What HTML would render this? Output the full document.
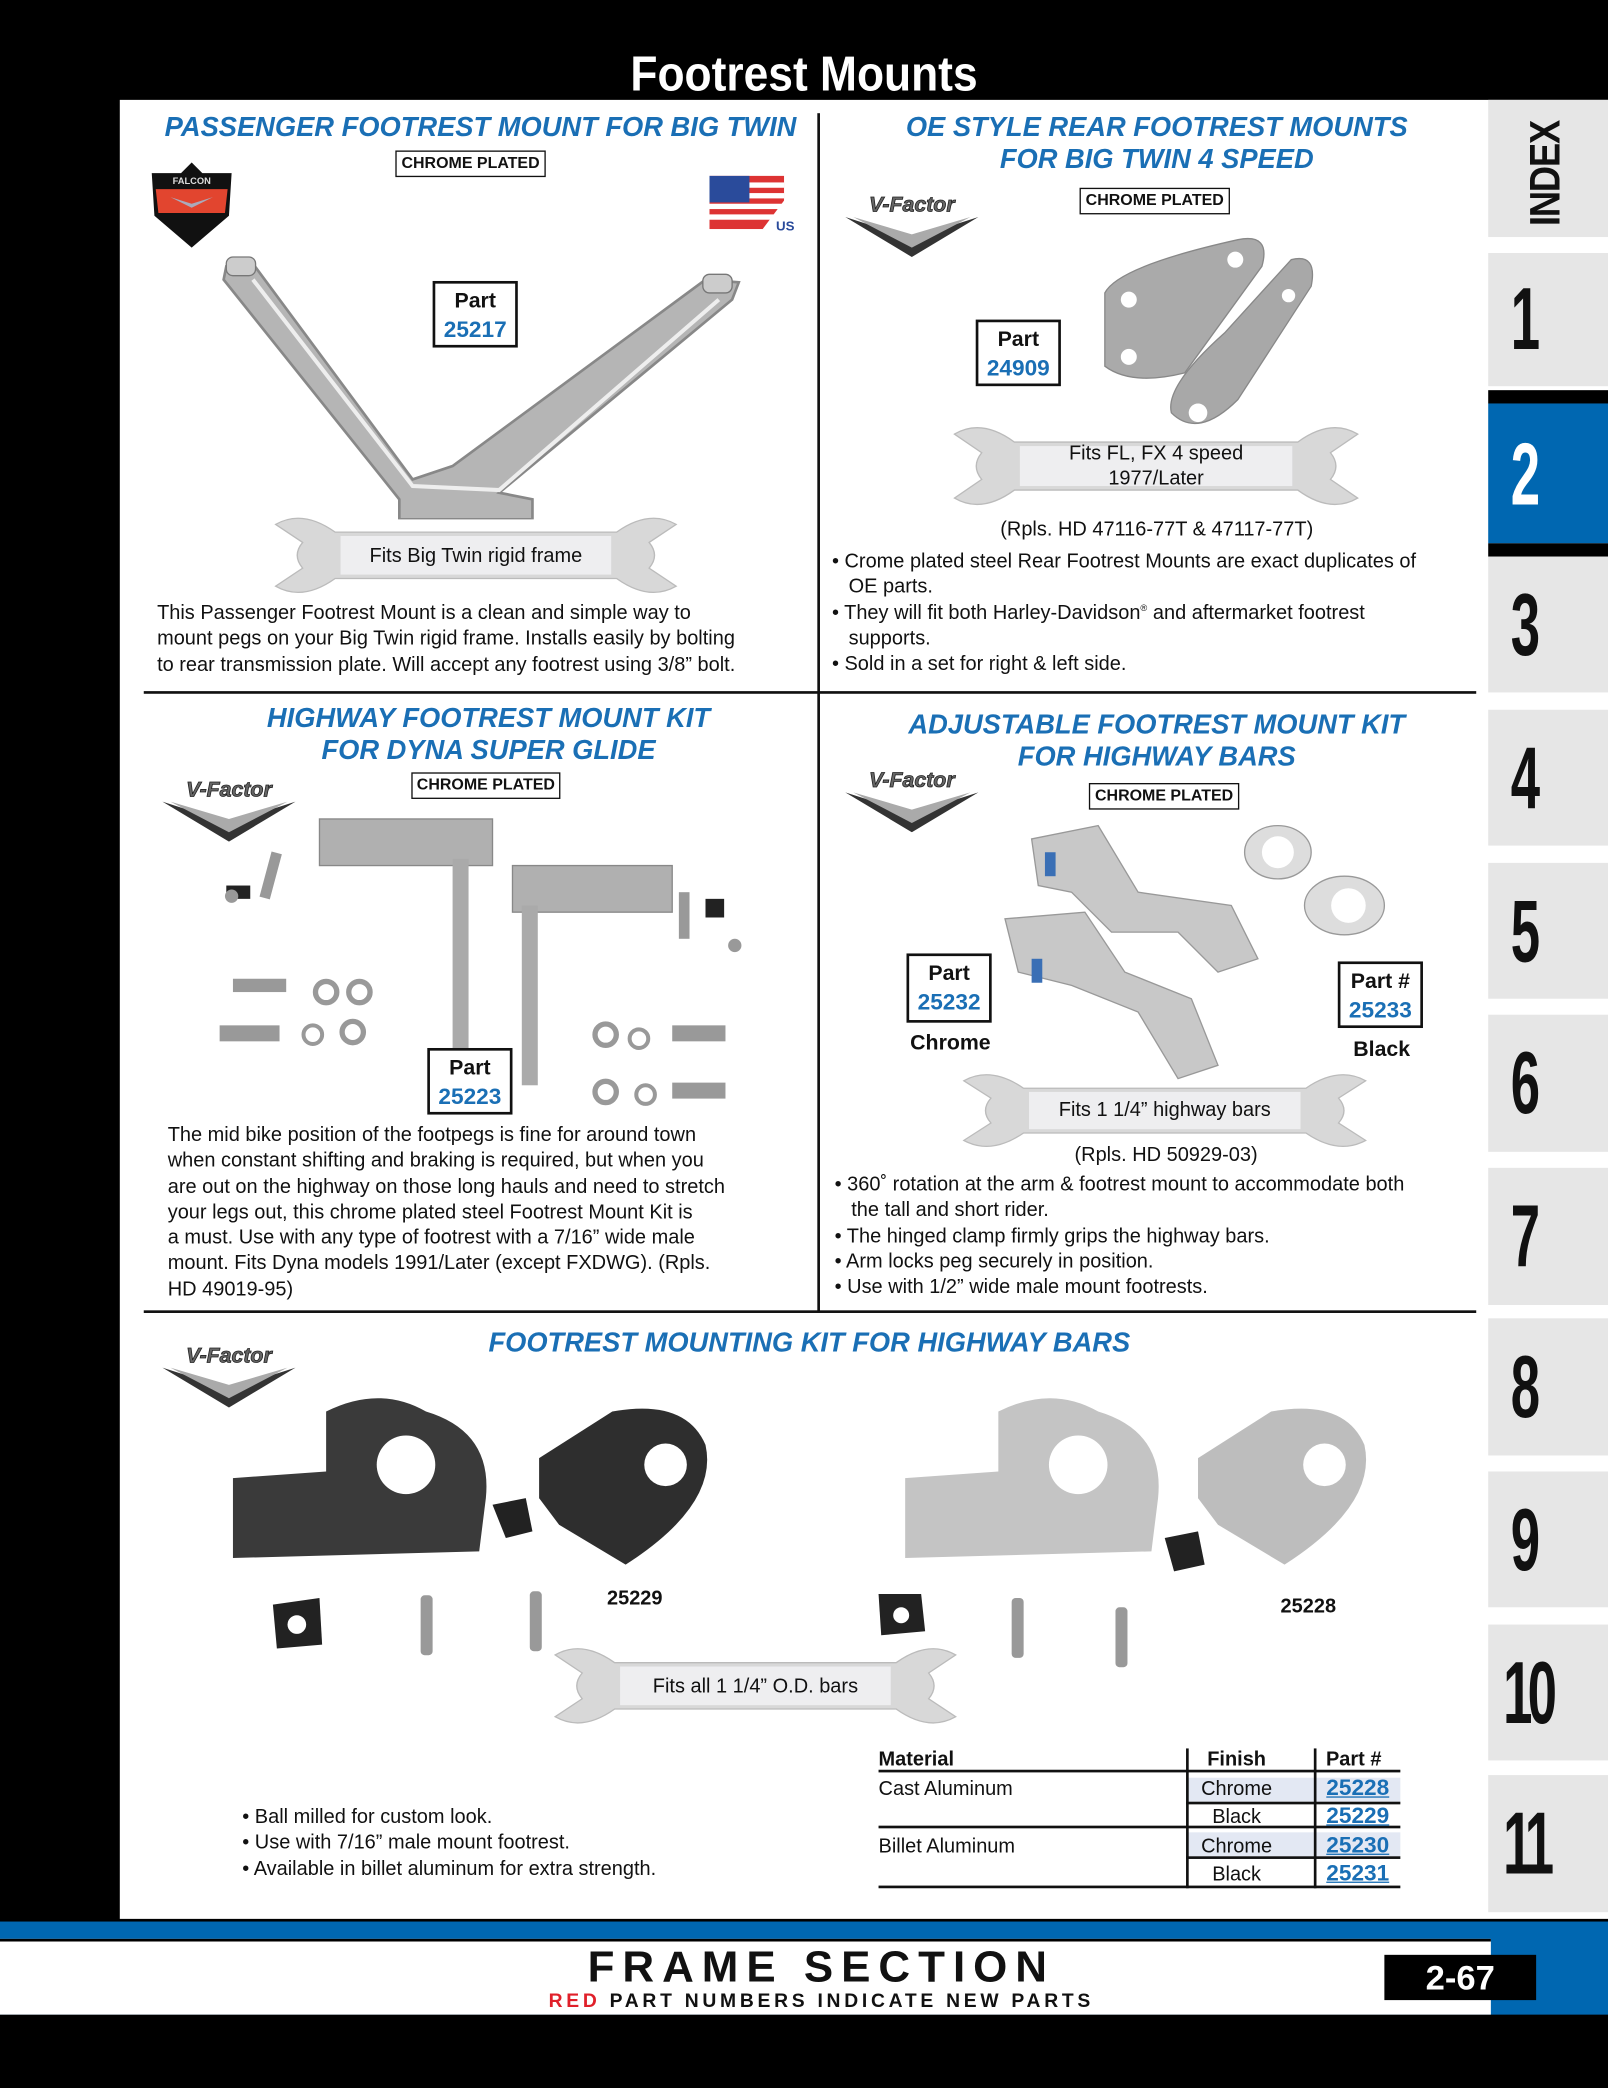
<!DOCTYPE html>
<html><head><meta charset="utf-8">
<style>
*{margin:0;padding:0;box-sizing:border-box}
html,body{width:1608px;height:2088px;overflow:hidden;background:#000}
#s{position:absolute;left:0;top:0;width:1208px;height:1568px;transform:scale(1.33113,1.33163);transform-origin:0 0;background:#000;font-family:"Liberation Sans",sans-serif;color:#111}
.a{position:absolute}
.h{position:absolute;color:#1a6fb5;font-weight:bold;font-style:italic;font-size:20.5px;text-align:center;line-height:24px;white-space:nowrap}
.cp{position:absolute;border:1.5px solid #111;font-size:12px;font-weight:bold;text-align:center;line-height:16px;background:#fff}
.pb{position:absolute;border:2px solid #111;text-align:center;font-weight:bold;font-size:16px;line-height:21px;padding-top:3px;background:#fff}
.pb span{color:#1a6fb5;display:block;font-size:17px}
.t{position:absolute;font-size:15px;line-height:19.3px;white-space:nowrap}
.tab{position:absolute;left:1118px;width:90px;background:#e6e6e6}
.num{position:absolute;left:0;width:56px;text-align:center;font-weight:bold;font-size:66px;line-height:62px;transform:scaleX(0.6);font-family:"Liberation Sans",sans-serif}
.w{position:absolute}
.w span{position:absolute;left:0;right:0;text-align:center;font-size:15px;line-height:19px}
.vl{position:absolute;background:#111}
sup{line-height:0}
</style></head><body><div id="s">
<div class="a" style="left:0;top:0;width:1208px;height:75px;background:#000"></div>
<div class="a" style="left:0;top:33px;width:1208px;text-align:center;color:#fff;font-weight:bold;font-size:37px;line-height:46px;font-family:'Liberation Sans',sans-serif;transform:scaleX(0.9)">Footrest Mounts</div>
<div class="a" style="left:90px;top:75px;width:1118px;height:1366px;background:#fff"></div>

<!-- tabs -->
<div class="tab" style="top:75px;height:103px"><div style="position:absolute;left:-2px;top:38px;width:90px;transform:rotate(-90deg) scaleX(0.85);font-weight:bold;font-size:32px;transform-origin:center;text-align:center;letter-spacing:-1px;">INDEX</div></div>
<div class="tab" style="top:190px;height:100px"><div class="num" style="top:18px">1</div></div>
<div class="tab" style="top:293px;height:10px;background:#000"></div>
<div class="tab" style="top:303px;height:105px;background:#0067b1"><div class="num" style="top:22px;color:#fff">2</div></div>
<div class="tab" style="top:408px;height:10px;background:#000"></div>
<div class="tab" style="top:418px;height:102px"><div class="num" style="top:20px">3</div></div>
<div class="tab" style="top:533px;height:102px"><div class="num" style="top:20px">4</div></div>
<div class="tab" style="top:648px;height:102px"><div class="num" style="top:20px">5</div></div>
<div class="tab" style="top:762px;height:103px"><div class="num" style="top:20px">6</div></div>
<div class="tab" style="top:877px;height:103px"><div class="num" style="top:20px">7</div></div>
<div class="tab" style="top:990px;height:103px"><div class="num" style="top:20px">8</div></div>
<div class="tab" style="top:1105px;height:102px"><div class="num" style="top:20px">9</div></div>
<div class="tab" style="top:1220px;height:102px"><div class="num" style="top:20px;letter-spacing:-6px">10</div></div>
<div class="tab" style="top:1333px;height:103px"><div class="num" style="top:20px;letter-spacing:-6px">11</div></div>

<!-- dividers -->
<div class="vl" style="left:614px;top:85px;width:2px;height:900px"></div>
<div class="vl" style="left:108px;top:519px;width:1001px;height:2px"></div>
<div class="vl" style="left:108px;top:984px;width:1001px;height:2px"></div>

<!-- headings -->
<div class="h" style="left:108px;width:506px;top:84px">PASSENGER FOOTREST MOUNT FOR BIG TWIN</div>
<div class="h" style="left:616px;width:506px;top:84px">OE STYLE REAR FOOTREST MOUNTS<br>FOR BIG TWIN 4 SPEED</div>
<div class="h" style="left:114px;width:506px;top:528px">HIGHWAY FOOTREST MOUNT KIT<br>FOR DYNA SUPER GLIDE</div>
<div class="h" style="left:616px;width:506px;top:533px">ADJUSTABLE FOOTREST MOUNT KIT<br>FOR HIGHWAY BARS</div>
<div class="h" style="left:108px;width:1000px;top:997px">FOOTREST MOUNTING KIT FOR HIGHWAY BARS</div>

<div class="cp" style="left:297px;top:113px;width:113px;height:20px">CHROME PLATED</div>
<div class="cp" style="left:811px;top:141px;width:113px;height:20px">CHROME PLATED</div>
<div class="cp" style="left:309px;top:580px;width:112px;height:20px">CHROME PLATED</div>
<div class="cp" style="left:818px;top:588px;width:113px;height:20px">CHROME PLATED</div>

<!-- logos -->
<svg class="a" style="left:110px;top:122px" width="68" height="66" viewBox="0 0 68 66"><path d="M34 0 L42 8 L64 8 L62 40 L34 64 L6 40 L4 8 L26 8Z" fill="#111"/><path d="M7 20 L61 20 L59 38 L9 38Z" fill="#e2452f"/><text x="34" y="16" font-size="7" fill="#ddd" text-anchor="middle" font-family="Liberation Sans" font-weight="bold">FALCON</text><path d="M18 26 L34 34 L50 26 L34 31Z" fill="#aab"/></svg>
<svg class="a" style="left:533px;top:132px" width="64" height="44" viewBox="0 0 64 44"><rect width="56" height="40" fill="#d33"/><rect y="5" width="56" height="4" fill="#fff"/><rect y="13" width="56" height="4" fill="#fff"/><rect y="21" width="56" height="4" fill="#fff"/><rect y="29" width="56" height="4" fill="#fff"/><rect width="30" height="20" fill="#2a4b9b"/><path d="M40 40 L64 8 L64 44Z" fill="#fff"/><text x="50" y="41" font-size="10" font-weight="bold" fill="#2a4b9b" font-family="Liberation Sans">USA</text></svg>
<svg class="a" style="left:633px;top:143px" width="104" height="50" viewBox="0 0 104 50"><path d="M2 20 L52 36 L102 20 L52 50Z" fill="#333"/><path d="M8 20 L52 33 L96 20 L52 43Z" fill="#aaa"/><text x="52" y="16" font-size="16" font-weight="bold" font-style="italic" text-anchor="middle" fill="#666" stroke="#222" stroke-width=".6" font-family="Liberation Sans">V-Factor</text></svg>
<svg class="a" style="left:120px;top:582px" width="104" height="50" viewBox="0 0 104 50"><path d="M2 20 L52 36 L102 20 L52 50Z" fill="#333"/><path d="M8 20 L52 33 L96 20 L52 43Z" fill="#aaa"/><text x="52" y="16" font-size="16" font-weight="bold" font-style="italic" text-anchor="middle" fill="#666" stroke="#222" stroke-width=".6" font-family="Liberation Sans">V-Factor</text></svg>
<svg class="a" style="left:633px;top:575px" width="104" height="50" viewBox="0 0 104 50"><path d="M2 20 L52 36 L102 20 L52 50Z" fill="#333"/><path d="M8 20 L52 33 L96 20 L52 43Z" fill="#aaa"/><text x="52" y="16" font-size="16" font-weight="bold" font-style="italic" text-anchor="middle" fill="#666" stroke="#222" stroke-width=".6" font-family="Liberation Sans">V-Factor</text></svg>
<svg class="a" style="left:120px;top:1007px" width="104" height="50" viewBox="0 0 104 50"><path d="M2 20 L52 36 L102 20 L52 50Z" fill="#333"/><path d="M8 20 L52 33 L96 20 L52 43Z" fill="#aaa"/><text x="52" y="16" font-size="16" font-weight="bold" font-style="italic" text-anchor="middle" fill="#666" stroke="#222" stroke-width=".6" font-family="Liberation Sans">V-Factor</text></svg>

<!-- product images approx -->
<svg class="a" style="left:160px;top:190px" width="410" height="200" viewBox="0 0 410 200">
<path d="M10 10 L30 8 L150 170 L180 160 L370 20 L395 22 L390 35 L215 180 L240 185 L240 200 L140 200 L140 185 L8 20Z" fill="#b5b5b5" stroke="#888" stroke-width="2"/>
<path d="M30 20 L150 175 L215 178 L380 35" fill="none" stroke="#eee" stroke-width="3"/>
<rect x="10" y="3" width="22" height="14" rx="5" fill="#ccc" stroke="#777"/><rect x="368" y="16" width="22" height="14" rx="5" fill="#ccc" stroke="#777"/>
</svg>
<svg class="a" style="left:820px;top:170px" width="170" height="160" viewBox="0 0 170 160">
<path d="M10 50 Q20 30 110 10 Q135 5 128 30 L70 110 Q30 120 10 105Z" fill="#aaa" stroke="#888"/>
<path d="M60 140 Q55 120 100 80 L150 25 Q170 20 165 45 L110 130 Q80 160 60 140Z" fill="#a8a8a8" stroke="#888"/>
<circle cx="28" cy="55" r="6" fill="#fff"/><circle cx="108" cy="25" r="6" fill="#fff"/><circle cx="28" cy="98" r="6" fill="#fff"/><circle cx="80" cy="140" r="7" fill="#fff"/><circle cx="148" cy="52" r="5" fill="#fff"/>
</svg>
<svg class="a" style="left:160px;top:605px" width="410" height="230" viewBox="0 0 410 230">
<rect x="80" y="10" width="130" height="35" fill="#b0b0b0" stroke="#888"/><rect x="180" y="40" width="12" height="150" fill="#aaa"/>
<rect x="225" y="45" width="120" height="35" fill="#b0b0b0" stroke="#888"/><rect x="232" y="75" width="12" height="135" fill="#aaa"/>
<rect x="10" y="60" width="18" height="10" fill="#222"/><rect x="40" y="35" width="8" height="35" fill="#999" transform="rotate(15 44 50)"/><circle cx="14" cy="68" r="5" fill="#999"/>
<rect x="15" y="130" width="40" height="10" fill="#999"/><circle cx="85" cy="140" r="8" fill="none" stroke="#999" stroke-width="4"/><circle cx="110" cy="140" r="8" fill="none" stroke="#999" stroke-width="4"/>
<rect x="5" y="165" width="45" height="12" fill="#999"/><circle cx="75" cy="172" r="7" fill="none" stroke="#999" stroke-width="3"/><circle cx="105" cy="170" r="8" fill="none" stroke="#999" stroke-width="4"/>
<circle cx="295" cy="172" r="8" fill="none" stroke="#999" stroke-width="4"/><circle cx="320" cy="175" r="7" fill="none" stroke="#999" stroke-width="3"/><rect x="345" y="165" width="40" height="12" fill="#999"/>
<circle cx="295" cy="215" r="8" fill="none" stroke="#999" stroke-width="4"/><circle cx="325" cy="217" r="7" fill="none" stroke="#999" stroke-width="3"/><rect x="345" y="208" width="40" height="12" fill="#999"/>
<rect x="370" y="70" width="14" height="14" fill="#222"/><circle cx="392" cy="105" r="5" fill="#999"/><rect x="350" y="65" width="8" height="35" fill="#999"/>
</svg>
<svg class="a" style="left:745px;top:610px" width="330" height="210" viewBox="0 0 330 210">
<path d="M30 20 L80 10 L110 60 L180 70 L200 110 L170 120 L140 90 L90 90 L60 60 L35 55Z" fill="#c8c8c8" stroke="#999"/>
<path d="M10 80 L70 75 L100 120 L150 140 L170 190 L140 200 L110 150 L60 130 L20 120Z" fill="#c8c8c8" stroke="#999"/>
<ellipse cx="215" cy="30" rx="25" ry="20" fill="#ddd" stroke="#999"/><ellipse cx="265" cy="70" rx="30" ry="22" fill="#ddd" stroke="#999"/><circle cx="215" cy="30" r="12" fill="#fff"/><circle cx="268" cy="70" r="13" fill="#fff"/>
<rect x="40" y="30" width="8" height="18" fill="#3a6fb5"/><rect x="30" y="110" width="8" height="18" fill="#3a6fb5"/>
</svg>
<svg class="a" style="left:170px;top:1035px" width="930" height="220" viewBox="0 0 930 220">
<path d="M5 75 L75 70 L75 25 Q115 5 150 25 Q200 40 195 90 L190 130 L5 135Z" fill="#3a3a3a"/><circle cx="135" cy="65" r="22" fill="#fff"/>
<path d="M235 60 L290 25 Q345 15 360 50 Q370 95 300 140 L250 110 L235 90Z" fill="#2e2e2e"/><circle cx="330" cy="65" r="16" fill="#fff"/>
<path d="M510 75 L580 70 L580 25 Q620 5 655 25 Q705 40 700 90 L695 130 L510 135Z" fill="#c4c4c4"/><circle cx="640" cy="65" r="22" fill="#fff"/>
<path d="M730 60 L785 25 Q840 15 855 50 Q865 95 795 140 L745 110 L730 90Z" fill="#bdbdbd"/><circle cx="825" cy="65" r="16" fill="#fff"/>
<path d="M200 95 L225 90 L230 115 L210 120Z" fill="#222"/><path d="M705 120 L730 115 L735 140 L712 145Z" fill="#222"/>
<path d="M35 170 L70 165 L72 200 L38 203Z" fill="#222"/><circle cx="53" cy="185" r="7" fill="#fff"/>
<path d="M490 162 L522 162 L525 190 L492 193Z" fill="#222"/><circle cx="507" cy="178" r="6" fill="#fff"/>
<rect x="146" y="163" width="9" height="45" rx="3" fill="#999"/><rect x="228" y="160" width="9" height="45" rx="3" fill="#999"/>
<rect x="590" y="165" width="9" height="45" rx="3" fill="#999"/><rect x="668" y="172" width="9" height="45" rx="3" fill="#999"/>
</svg>

<!-- part boxes -->
<div class="pb" style="left:325px;top:211px;width:64px;height:50px">Part<span>25217</span></div>
<div class="pb" style="left:733px;top:240px;width:64px;height:50px">Part<span>24909</span></div>
<div class="pb" style="left:321px;top:787px;width:64px;height:50px">Part<span>25223</span></div>
<div class="pb" style="left:681px;top:716px;width:64px;height:52px">Part<span>25232</span></div>
<div class="pb" style="left:1005px;top:722px;width:64px;height:50px">Part #<span>25233</span></div>
<div class="a" style="left:664px;top:775px;width:100px;text-align:center;font-weight:bold;font-size:16px">Chrome</div>
<div class="a" style="left:988px;top:780px;width:100px;text-align:center;font-weight:bold;font-size:16px">Black</div>
<div class="a" style="left:456px;top:1192px;font-weight:bold;font-size:15px">25229</div>
<div class="a" style="left:962px;top:1198px;font-weight:bold;font-size:15px">25228</div>

<!-- wrenches -->
<svg width="0" height="0" style="position:absolute"><defs><path id="wr" d="M2 6 Q22 -6 46 12 L254 12 Q278 -6 298 6 L278 20 Q286 30 278 40 L298 54 Q278 66 254 48 L46 48 Q22 66 2 54 L22 40 Q14 30 22 20 Z"/></defs></svg>
<div class="w" style="left:205px;top:388px;width:305px;height:58px"><svg width="305" height="58" viewBox="0 0 300 60" preserveAspectRatio="none"><use href="#wr" fill="#d8d8d8" stroke="#bbb"/><rect x="50" y="15" width="200" height="30" fill="#eeeef0"/></svg><span style="top:20px">Fits Big Twin rigid frame</span></div>
<div class="w" style="left:715px;top:320px;width:307px;height:60px"><svg width="307" height="60" viewBox="0 0 300 60" preserveAspectRatio="none"><use href="#wr" fill="#d8d8d8" stroke="#bbb"/><rect x="50" y="15" width="200" height="30" fill="#eeeef0"/></svg><span style="top:11px">Fits FL, FX 4 speed<br>1977/Later</span></div>
<div class="w" style="left:722px;top:806px;width:306px;height:56px"><svg width="306" height="56" viewBox="0 0 300 60" preserveAspectRatio="none"><use href="#wr" fill="#d8d8d8" stroke="#bbb"/><rect x="50" y="15" width="200" height="30" fill="#eeeef0"/></svg><span style="top:18px">Fits 1 1/4” highway bars</span></div>
<div class="w" style="left:415px;top:1237px;width:305px;height:58px"><svg width="305" height="58" viewBox="0 0 300 60" preserveAspectRatio="none"><use href="#wr" fill="#d8d8d8" stroke="#bbb"/><rect x="50" y="15" width="200" height="30" fill="#eeeef0"/></svg><span style="top:20px">Fits all 1 1/4” O.D. bars</span></div>

<!-- body text -->
<div class="t" style="left:118px;top:451px">This Passenger Footrest Mount is a clean and simple way to<br>mount pegs on your Big Twin rigid frame. Installs easily by bolting<br>to rear transmission plate. Will accept any footrest using 3/8” bolt.</div>
<div class="t" style="left:616px;width:506px;text-align:center;top:388px">(Rpls. HD 47116-77T &amp; 47117-77T)</div>
<div class="t" style="left:625px;top:412px">• Crome plated steel Rear Footrest Mounts are exact duplicates of<br>&nbsp;&nbsp;&nbsp;OE parts.<br>• They will fit both Harley-Davidson<sup style="font-size:7px">®</sup> and aftermarket footrest<br>&nbsp;&nbsp;&nbsp;supports.<br>• Sold in a set for right &amp; left side.</div>
<div class="t" style="left:126px;top:843px">The mid bike position of the footpegs is fine for around town<br>when constant shifting and braking is required, but when you<br>are out on the highway on those long hauls and need to stretch<br>your legs out, this chrome plated steel Footrest Mount Kit is<br>a must. Use with any type of footrest with a 7/16” wide male<br>mount. Fits Dyna models 1991/Later (except FXDWG). (Rpls.<br>HD 49019-95)</div>
<div class="t" style="left:623px;width:506px;text-align:center;top:858px">(Rpls. HD 50929-03)</div>
<div class="t" style="left:627px;top:880px">• 360˚ rotation at the arm &amp; footrest mount to accommodate both<br>&nbsp;&nbsp;&nbsp;the tall and short rider.<br>• The hinged clamp firmly grips the highway bars.<br>• Arm locks peg securely in position.<br>• Use with 1/2” wide male mount footrests.</div>
<div class="t" style="left:182px;top:1355px">• Ball milled for custom look.<br>• Use with 7/16” male mount footrest.<br>• Available in billet aluminum for extra strength.</div>

<!-- table -->
<div class="a" style="left:891px;top:1335px;width:96px;height:18px;background:#e3e8f3"></div>
<div class="a" style="left:891px;top:1376px;width:96px;height:18px;background:#e3e8f3"></div>
<div class="a" style="left:987px;top:1335px;width:65px;height:18px;background:#e3e8f3"></div>
<div class="a" style="left:987px;top:1376px;width:65px;height:18px;background:#e3e8f3"></div>
<div class="vl" style="left:660px;top:1329px;width:392px;height:2px"></div>
<div class="vl" style="left:891px;top:1353px;width:161px;height:2px"></div>
<div class="vl" style="left:660px;top:1371px;width:392px;height:2px"></div>
<div class="vl" style="left:891px;top:1394px;width:161px;height:2px"></div>
<div class="vl" style="left:660px;top:1416px;width:392px;height:2px"></div>
<div class="vl" style="left:891px;top:1313px;width:1.5px;height:105px"></div>
<div class="vl" style="left:987px;top:1313px;width:1.5px;height:105px"></div>
<div class="a" style="left:660px;top:1313px;font-weight:bold;font-size:15px">Material</div>
<div class="a" style="left:881px;top:1313px;width:96px;text-align:center;font-weight:bold;font-size:15px">Finish</div>
<div class="a" style="left:987px;top:1313px;width:60px;text-align:center;font-weight:bold;font-size:15px">Part #</div>
<div class="a" style="left:660px;top:1335px;font-size:15px">Cast Aluminum</div>
<div class="a" style="left:660px;top:1378px;font-size:15px">Billet Aluminum</div>
<div class="a" style="left:881px;top:1335px;width:96px;text-align:center;font-size:15px">Chrome</div>
<div class="a" style="left:881px;top:1356px;width:96px;text-align:center;font-size:15px">Black</div>
<div class="a" style="left:881px;top:1378px;width:96px;text-align:center;font-size:15px">Chrome</div>
<div class="a" style="left:881px;top:1399px;width:96px;text-align:center;font-size:15px">Black</div>
<div class="a" style="left:987px;top:1333px;width:66px;text-align:center;font-size:17px;font-weight:bold;color:#1a6fb5;text-decoration:underline">25228</div>
<div class="a" style="left:987px;top:1354px;width:66px;text-align:center;font-size:17px;font-weight:bold;color:#1a6fb5;text-decoration:underline">25229</div>
<div class="a" style="left:987px;top:1376px;width:66px;text-align:center;font-size:17px;font-weight:bold;color:#1a6fb5;text-decoration:underline">25230</div>
<div class="a" style="left:987px;top:1397px;width:66px;text-align:center;font-size:17px;font-weight:bold;color:#1a6fb5;text-decoration:underline">25231</div>

<!-- footer -->
<div class="a" style="left:0;top:1443px;width:1208px;height:70px;background:#0067b1"></div>
<div class="a" style="left:0;top:1456px;width:1120px;height:57px;background:#fff;border-top:2px solid #000"></div>
<div class="a" style="left:0;top:1459px;width:1234px;text-align:center;font-weight:bold;font-size:33px;letter-spacing:6px;line-height:36px">FRAME SECTION</div>
<div class="a" style="left:0;top:1495px;width:1234px;text-align:center;font-weight:bold;font-size:14.5px;letter-spacing:2.8px;line-height:16px"><span style="color:#e0202a">RED</span> PART NUMBERS INDICATE NEW PARTS</div>
<div class="a" style="left:1040px;top:1468px;width:114px;height:34px;background:#000;color:#fff;font-weight:bold;font-size:26px;text-align:center;line-height:34px">2-67</div>
<div class="a" style="left:0;top:1513px;width:1208px;height:55px;background:#000"></div>
</div></body></html>
